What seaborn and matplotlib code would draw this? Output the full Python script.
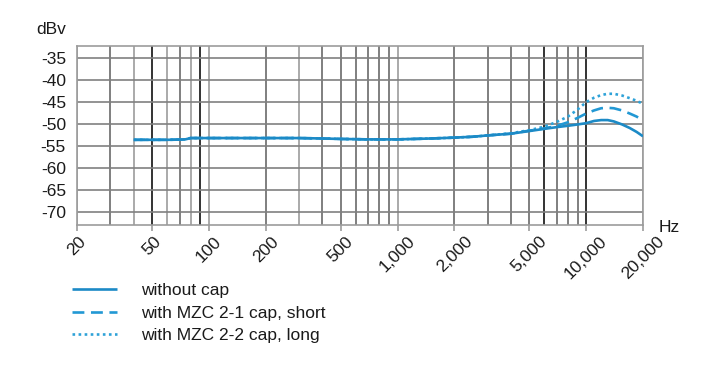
import matplotlib
matplotlib.use("Agg")
import matplotlib.pyplot as plt
import seaborn as sns
import pandas as pd
import numpy as np
from matplotlib.ticker import FixedLocator, NullLocator, NullFormatter

# ---------------- data ----------------
freq_no_cap = [40, 50, 60, 70, 75, 80, 100, 200, 300, 400, 500, 700, 1000, 1500,
               2000, 2500, 3000, 4000, 5000, 6000, 7000, 8000, 9000, 10000, 11000,
               12000, 13000, 14000, 15500, 17000, 18500, 20000]
level_no_cap = [-53.6, -53.6, -53.6, -53.55, -53.5, -53.2, -53.2, -53.2, -53.2, -53.3,
                -53.4, -53.5, -53.5, -53.3, -53.1, -52.9, -52.6, -52.2, -51.6, -51.1,
                -50.7, -50.4, -50.1, -49.8, -49.3, -49.1, -49.1, -49.4, -50.1, -50.9,
                -51.8, -52.8]

freq_short = [40, 50, 60, 70, 75, 80, 100, 200, 300, 400, 500, 700, 1000, 1500,
              2000, 2500, 3000, 4000, 5000, 6000, 7000, 8000, 9000, 10000, 11000,
              12000, 13000, 14000, 15500, 17000, 18500, 20000]
level_short = [-53.6, -53.6, -53.6, -53.55, -53.5, -53.2, -53.2, -53.2, -53.2, -53.3,
               -53.4, -53.5, -53.5, -53.3, -53.1, -52.9, -52.6, -52.2, -51.5, -51.0,
               -50.4, -49.6, -48.6, -47.6, -46.9, -46.4, -46.3, -46.4, -46.9, -47.6,
               -48.3, -49.2]

freq_long = [40, 50, 60, 70, 75, 80, 100, 200, 300, 400, 500, 700, 1000, 1500,
             2000, 2500, 3000, 4000, 5000, 6000, 7000, 8000, 9000, 10000, 11000,
             12000, 13000, 14000, 15500, 17000, 18500, 20000]
level_long = [-53.6, -53.6, -53.6, -53.55, -53.5, -53.2, -53.2, -53.2, -53.2, -53.3,
              -53.4, -53.5, -53.5, -53.3, -53.1, -52.9, -52.6, -52.1, -51.4, -50.6,
              -49.5, -48.3, -46.7, -45.0, -44.0, -43.4, -43.1, -43.1, -43.5, -44.1,
              -44.7, -45.4]

series_names = ["without cap", "with MZC 2-1 cap, short", "with MZC 2-2 cap, long"]

x_ticks = [20, 50, 100, 200, 500, 1000, 2000, 5000, 10000, 20000]
x_tick_labels = ["20", "50", "100", "200", "500", "1,000", "2,000", "5,000", "10,000", "20,000"]
y_ticks = [-35, -40, -45, -50, -55, -60, -65, -70]
y_tick_labels = ["-35", "-40", "-45", "-50", "-55", "-60", "-65", "-70"]

grid_freqs = [20, 30, 40, 50, 60, 70, 80, 90, 100, 200, 300, 400, 500, 600, 700, 800, 900,
              1000, 2000, 3000, 4000, 5000, 6000, 7000, 8000, 9000, 10000, 20000]
dark_freqs = [50, 90, 6000, 10000]
light_freqs = [20, 40, 60, 80, 100, 300, 1000, 20000]

# ---------------- build frame ----------------
df = pd.concat([
    pd.DataFrame({"freq": freq_no_cap, "level": level_no_cap, "series": series_names[0]}),
    pd.DataFrame({"freq": freq_short, "level": level_short, "series": series_names[1]}),
    pd.DataFrame({"freq": freq_long, "level": level_long, "series": series_names[2]}),
], ignore_index=True)

sns.set_theme(style="white")
plt.rcParams["font.family"] = ["Liberation Sans", "DejaVu Sans"]

fig = plt.figure(figsize=(7.07, 3.74), dpi=100)
ax = fig.add_axes([77 / 707, 1 - 225.3 / 374, (643 - 77) / 707, (225.3 - 46) / 374])

palette = {series_names[0]: "#1c8ac6", series_names[1]: "#2298d4", series_names[2]: "#2ea2d8"}
dashes = {series_names[0]: "", series_names[1]: (4.5, 2.5), series_names[2]: (1.0, 1.3)}

sns.lineplot(data=df, x="freq", y="level", hue="series", style="series",
             hue_order=series_names, style_order=series_names,
             palette=palette, dashes=dashes, linewidth=1.9, ax=ax, legend=False,
             estimator=None, sort=True)

lines = ax.get_lines()
for ln, z in zip(lines, [5, 4, 3]):
    ln.set_zorder(z)
    ln.set_solid_capstyle("butt")

ax.set_xscale("log")
ax.set_xlim(20, 20000)
ax.set_ylim(-73.1, -32.2)

# grid
grid_colors = []
for f in grid_freqs:
    if f in dark_freqs:
        grid_colors.append("#111111")
    elif f in light_freqs:
        grid_colors.append("#9c9c9c")
    else:
        grid_colors.append("#6a6a6a")
ax.vlines(grid_freqs, 0, 1, transform=ax.get_xaxis_transform(), colors=grid_colors,
          linewidth=1.2, zorder=1)
ax.hlines(y_ticks, 0, 1, transform=ax.get_yaxis_transform(), colors="#808080",
          linewidth=1.2, zorder=1)

for side in ["left", "right", "top", "bottom"]:
    ax.spines[side].set_color("#9c9c9c")
    ax.spines[side].set_linewidth(1.2)

ax.xaxis.set_major_locator(FixedLocator(x_ticks))
ax.xaxis.set_minor_locator(NullLocator())
ax.xaxis.set_minor_formatter(NullFormatter())
ax.set_xticklabels(x_tick_labels, rotation=45, ha="center", fontsize=12.5, color="#1a1a1a")
ax.set_yticks(y_ticks)
ax.set_yticklabels(y_tick_labels, fontsize=12.5, color="#1a1a1a")
ax.tick_params(axis="x", which="major", length=4, width=1.2, color="#9c9c9c", pad=2,
               bottom=True)
ax.tick_params(axis="y", length=0, pad=8)
ax.set_xlabel("")
ax.set_ylabel("")

fig.text(36 / 707, 1 - 30 / 374, "dBv", fontsize=12.5, color="#1a1a1a", va="center", ha="left")
fig.text(659 / 707, 1 - 227 / 374, "Hz", fontsize=12.5, color="#1a1a1a", va="center", ha="left")

leg = ax.legend(handles=lines, labels=series_names, loc="upper left",
                bbox_to_anchor=(72 / 707, 1 - 283 / 374), bbox_transform=fig.transFigure,
                frameon=False, fontsize=12.5, handlelength=2.6, handletextpad=1.35,
                labelspacing=0.42, borderpad=0, borderaxespad=0)
for t in leg.get_texts():
    t.set_color("#1a1a1a")

fig.savefig("out.png", dpi=100)
